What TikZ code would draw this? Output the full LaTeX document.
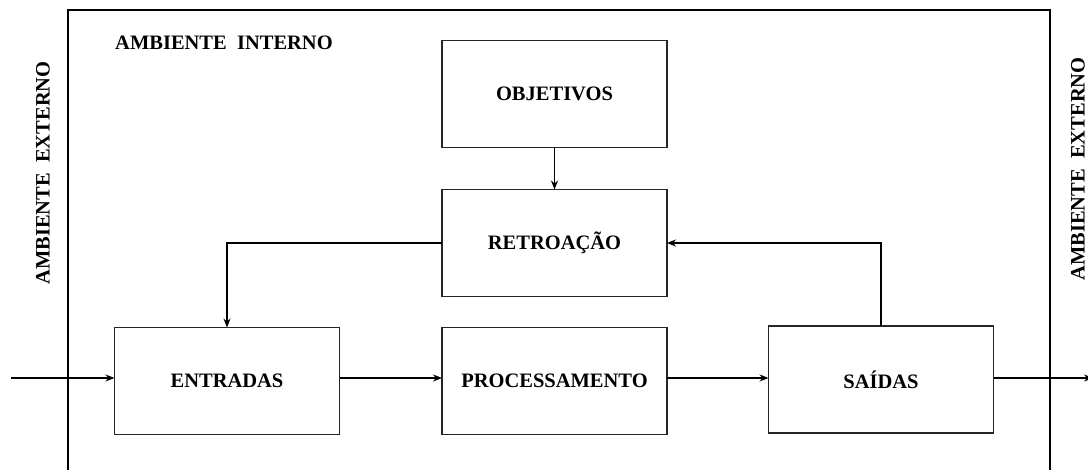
\documentclass[tikz,border=0pt]{standalone}
\usepackage{fontspec}
\setmainfont{Liberation Serif}
\usetikzlibrary{arrows.meta}
\begin{document}
\begin{tikzpicture}[x=1pt,y=-1pt,
  box/.style={draw=black!85, line width=1.1pt, minimum width=225pt, minimum height=107pt, inner sep=0pt, outer sep=0pt, font=\fontsize{20.5}{24}\selectfont\bfseries},
  lbl/.style={inner sep=0pt, font=\fontsize{20.5}{24}\selectfont\bfseries},
  conn/.style={line width=1.4pt, -{Stealth[length=9pt,width=7pt]}},
  plain/.style={line width=1.4pt}]
\useasboundingbox (0,0) rectangle (1088,470);
\fill[white] (0,0) rectangle (1088,470);
% frame
\draw[line width=1.1pt] (68,470) -- (68,10) -- (1050,10) -- (1050,470);
% labels
\node[lbl, anchor=west] (interno) at (115,43) {AMBIENTE\ \ INTERNO};
\node[lbl, rotate=90] (extL) at (43,173) {AMBIENTE\ \ EXTERNO};
\node[lbl, rotate=90] (extR) at (1078,169) {AMBIENTE\ \ EXTERNO};
% boxes
\node[box] (obj) at (554.5,94) {OBJETIVOS};
\node[box] (ret) at (554.5,243) {RETROAÇÃO};
\node[box] (ent) at (227,381) {ENTRADAS};
\node[box] (proc) at (554.5,381) {PROCESSAMENTO};
\node[box] (sai) at (881,379.5) {SAÍDAS};
% connectors
\coordinate (inL) at (11,378);
\coordinate (outR) at (1093,378);
\draw[conn] (inL) -- (ent.west |- inL);
\draw[conn] (ent.east |- 0,378) -- (proc.west |- 0,378);
\draw[conn] (proc.east |- 0,378) -- (sai.west |- 0,378);
\draw[conn] (sai.east |- outR) -- (outR);
\draw[conn] (obj.south) -- (ret.north);
\draw[conn] (ret.west) -| (ent.north);
\draw[conn] (sai.north) |- (ret.east);
\end{tikzpicture}
\end{document}
